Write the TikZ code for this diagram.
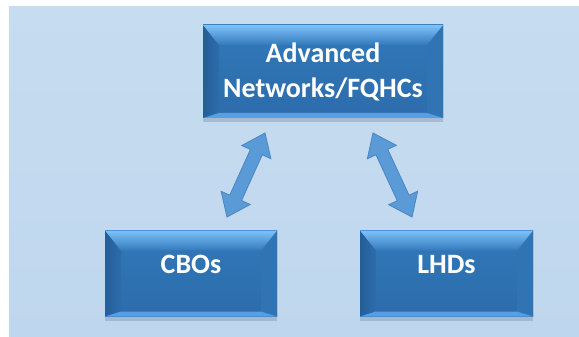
\documentclass[tikz,border=0pt]{standalone}
\usepackage{fontspec}
\setmainfont{Carlito}
\usetikzlibrary{calc,shadows}
\definecolor{panelTop}{HTML}{C6DCF0}
\definecolor{panelMid}{HTML}{B8D3EC}
\definecolor{panelBot}{HTML}{BFD7EE}
\definecolor{boxTop}{HTML}{3178B8}
\definecolor{boxBot}{HTML}{2C6CAC}
\definecolor{bevTopL}{HTML}{7CC2FB}
\definecolor{bevTopD}{HTML}{3479BA}
\definecolor{bevLeftD}{HTML}{245E98}
\definecolor{bevLeftL}{HTML}{2D6DAC}
\definecolor{bevRight}{HTML}{3074B3}
\definecolor{bevBot}{HTML}{5C9EDD}
\definecolor{arrFill}{HTML}{5A9AD6}
\definecolor{arrLine}{HTML}{4A86C2}
\definecolor{shadowc}{HTML}{7F96AE}
\tikzset{
  bevelbox/.style={rectangle, inner sep=0pt, text=white,
    font=\fontsize{28}{35}\selectfont\bfseries, align=center,
    fill=boxTop,
    drop shadow={shadow xshift=0pt, shadow yshift=-4pt, opacity=0.45, fill=shadowc},
    path picture={
      \coordinate (pnw) at (path picture bounding box.north west);
      \coordinate (pne) at (path picture bounding box.north east);
      \coordinate (psw) at (path picture bounding box.south west);
      \coordinate (pse) at (path picture bounding box.south east);
      \shade[top color=boxTop, bottom color=boxBot] (pnw) rectangle (pse);
      \shade[left color=bevLeftD, right color=bevLeftL]
        (pnw) -- ($(pnw)+(16,20)$) -- ($(psw)+(16,-5)$) -- (psw) -- cycle;
      \fill[bevRight]
        (pne) -- ($(pne)+(-16,20)$) -- ($(pse)+(-16,-5)$) -- (pse) -- cycle;
      \shade[top color=bevTopL, bottom color=bevTopD]
        (pnw) -- (pne) -- ($(pne)+(-16,20)$) -- ($(pnw)+(16,20)$) -- cycle;
      \fill[bevBot]
        (psw) -- ($(psw)+(16,-5)$) -- ($(pse)+(-16,-5)$) -- (pse) -- cycle;
    }},
  blockarrow/.style={fill=arrFill, draw=arrLine, line width=0.8pt, line join=miter}
}
\newcommand{\dblarrow}[2]{%
  \path[blockarrow]
    (#1) -- ($($(#1)!21pt!(#2)$)!16pt!90:(#2)$)
    -- ($($(#1)!21pt!(#2)$)!6.5pt!90:(#2)$)
    -- ($($(#2)!21pt!(#1)$)!6.5pt!-90:(#1)$)
    -- ($($(#2)!21pt!(#1)$)!16pt!-90:(#1)$)
    -- (#2)
    -- ($($(#2)!21pt!(#1)$)!16pt!90:(#1)$)
    -- ($($(#2)!21pt!(#1)$)!6.5pt!90:(#1)$)
    -- ($($(#1)!21pt!(#2)$)!6.5pt!-90:(#2)$)
    -- ($($(#1)!21pt!(#2)$)!16pt!-90:(#2)$)
    -- cycle;}
\begin{document}
\begin{tikzpicture}[x=1pt,y=-1pt]
\useasboundingbox (0,0) rectangle (579,337);
\fill[white] (0,0) rectangle (579,337);
\shade[top color=panelTop, middle color=panelMid, bottom color=panelBot] (9,7) rectangle (579,337);

\node[bevelbox, minimum width=240pt, minimum height=93pt] (adv) at (323,71.5) {Advanced\\Networks/FQHCs};
\node[bevelbox, minimum width=172pt, minimum height=86pt, text height=20pt, text depth=20pt] (cbo) at (191,273.5) {CBOs};
\node[bevelbox, minimum width=173pt, minimum height=86pt, text height=20pt, text depth=20pt] (lhd) at (446.5,273.5) {LHDs};

\coordinate (l1) at (265,133);
\coordinate (l2) at (227,217);
\coordinate (r1) at (373,133);
\coordinate (r2) at (412,217);
\dblarrow{l1}{l2}
\dblarrow{r1}{r2}
\end{tikzpicture}
\end{document}
